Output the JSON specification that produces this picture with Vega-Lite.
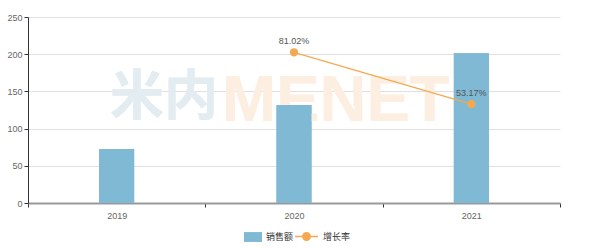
{
  "$schema": "https://vega.github.io/schema/vega-lite/v6.json",
  "width": 532,
  "height": 186,
  "autosize": {"type": "none"},
  "padding": {"left": 28, "top": 17, "right": 40, "bottom": 45},
  "background": "#ffffff",
  "config": {
    "view": {"stroke": null},
    "font": "Liberation Sans",
    "axis": {"labelFont": "Liberation Sans", "labelFontSize": 9, "labelColor": "#666666", "titleFontSize": 9},
    "legend": {"labelFont": "Noto Sans CJK SC", "labelFontSize": 9, "labelColor": "#333333", "padding": 0}
  },
  "data": {
    "values": [
      {"year": "2019", "sales": 72.5, "rate": null, "rateLabel": ""},
      {"year": "2020", "sales": 131.7, "rate": 81.02, "rateLabel": "81.02%"},
      {"year": "2021", "sales": 201.2, "rate": 53.17, "rateLabel": "53.17%"}
    ]
  },
  "encoding": {
    "x": {
      "field": "year", "type": "nominal", "title": null,
      "scale": {"paddingInner": 0, "paddingOuter": 0},
      "axis": {
        "labelAngle": 0, "domainColor": "#999999", "domainWidth": 2,
        "tickColor": "#333333", "tickBand": "extent", "tickSize": 4, "labelPadding": 4,
        "grid": false
      }
    }
  },
  "layer": [
    {
      "mark": {"type": "bar", "width": 35},
      "encoding": {
        "y": {
          "field": "sales", "type": "quantitative", "title": null,
          "scale": {"domain": [0, 250]},
          "axis": {
            "values": [0, 50, 100, 150, 200, 250], "domainColor": "#333333", "domainWidth": 1,
            "tickColor": "#333333", "tickSize": 4, "labelPadding": 2,
            "grid": true, "gridColor": "#e0e0e0", "gridWidth": 1
          }
        },
        "color": {
          "datum": "销售额", "type": "nominal",
          "scale": {"domain": ["销售额"], "range": ["#7fb9d4"]},
          "legend": {
            "title": null, "orient": "none", "legendX": 216, "legendY": 211, "direction": "horizontal",
            "symbolType": "M-1,-0.55H1V0.55H-1Z", "symbolSize": 324, "symbolStrokeWidth": 0,
            "labelFontSize": 9, "labelOffset": 4
          }
        }
      }
    },
    {
      "mark": {"type": "text", "font": "Noto Sans CJK SC", "fontWeight": "bold", "fontSize": 54, "align": "right", "baseline": "middle", "dx": -76, "color": "#e3edf1"},
      "encoding": {
        "x": {"datum": "2020"},
        "y": {"datum": 140, "type": "quantitative", "scale": {"domain": [0, 250]}, "axis": null},
        "text": {"value": "米内"}
      }
    },
    {
      "mark": {"type": "text", "font": "Liberation Sans", "fontWeight": "bold", "fontSize": 65, "align": "left", "baseline": "middle", "dx": -72, "dy": 2, "color": "#fdeee2"},
      "encoding": {
        "x": {"datum": "2020"},
        "y": {"datum": 140, "type": "quantitative", "scale": {"domain": [0, 250]}, "axis": null},
        "text": {"value": "MENET"}
      }
    },
    {
      "mark": {"type": "bar", "width": 35, "color": "#7fb9d4"},
      "encoding": {
        "y": {"field": "sales", "type": "quantitative", "scale": {"domain": [0, 250]}, "axis": null}
      }
    },
    {
      "transform": [{"filter": "datum.rate != null"}],
      "layer": [
        {
          "mark": {"type": "line", "strokeWidth": 1.3, "point": {"filled": true, "size": 40, "color": "#f5a94f"}},
          "encoding": {
            "y": {
              "field": "rate", "type": "quantitative", "title": null,
              "scale": {"domain": [0, 100]},
              "axis": {
                "orient": "right", "values": [0, 20, 40, 60, 80, 100], "labelExpr": "datum.value + '%'",
                "domainColor": "#333333", "tickColor": "#333333", "tickSize": 4, "labelPadding": 2,
                "grid": false
              }
            },
            "stroke": {
              "datum": "增长率", "type": "nominal",
              "scale": {"domain": ["增长率"], "range": ["#f5a94f"]},
              "legend": {
                "title": null, "orient": "none", "legendX": 266, "legendY": 207, "direction": "horizontal",
                "symbolType": "M-1,0H-0.33M0.33,0H1M-0.33,0A0.33,0.33 0 1,0 0.33,0A0.33,0.33 0 1,0 -0.33,0Z",
                "symbolSize": 529, "symbolFillColor": "#f5a94f", "symbolStrokeWidth": 1.3,
                "labelFontSize": 9, "labelOffset": 4
              }
            }
          }
        },
        {
          "mark": {"type": "text", "dy": -11, "fontSize": 9, "color": "#555555", "font": "Liberation Sans"},
          "encoding": {
            "y": {"field": "rate", "type": "quantitative", "scale": {"domain": [0, 100]}, "axis": null},
            "text": {"field": "rateLabel"}
          }
        }
      ],
      "resolve": {"scale": {"y": "shared"}}
    }
  ],
  "resolve": {"scale": {"y": "independent"}}
}
